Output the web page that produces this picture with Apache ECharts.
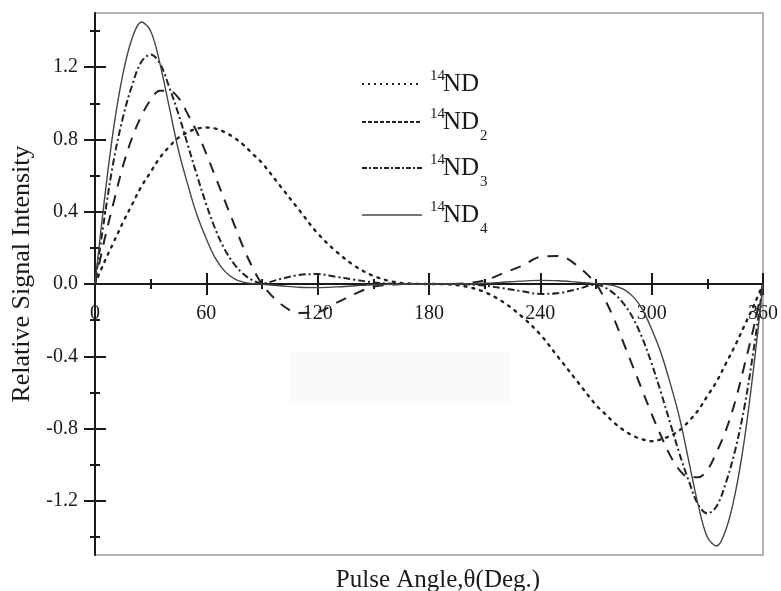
<!DOCTYPE html>
<html>
<head>
<meta charset="utf-8">
<script src="https://cdn.jsdelivr.net/npm/echarts@6/dist/echarts.min.js"></script>
<style>html,body{margin:0;padding:0;background:#fff}#c{width:781px;height:591px}</style>
</head>
<body>
<div id="c"></div>
<script>
// Pulse angle (degrees)
const angles = [0,5,10,15,20,25,30,35,40,45,50,55,60,65,70,75,80,85,90,
  100,110,120,130,140,150,160,170,180,190,200,210,220,230,240,250,260,
  270,275,280,285,290,295,300,305,310,315,320,325,330,335,340,345,350,355,360];

const nd1 = [0,0.12,0.23,0.34,0.44,0.54,0.62,0.70,0.76,0.81,0.84,0.86,0.866,0.86,0.84,0.81,0.77,0.72,0.67,
  0.54,0.41,0.28,0.18,0.10,0.045,0.014,0.002,0,-0.002,-0.014,-0.045,-0.10,-0.18,-0.28,-0.41,-0.54,
  -0.67,-0.72,-0.77,-0.81,-0.84,-0.86,-0.87,-0.86,-0.84,-0.81,-0.76,-0.70,-0.62,-0.54,-0.44,-0.34,-0.23,-0.12,0];

const nd2 = [0,0.24,0.45,0.65,0.81,0.93,1.02,1.07,1.07,1.03,0.94,0.84,0.72,0.59,0.46,0.33,0.20,0.09,0.0,
  -0.11,-0.16,-0.155,-0.105,-0.055,-0.015,-0.004,0,0,0,0.004,0.02,0.06,0.10,0.15,0.155,0.10,
  0.0,-0.09,-0.20,-0.33,-0.46,-0.59,-0.72,-0.84,-0.95,-1.03,-1.07,-1.07,-1.03,-0.93,-0.81,-0.65,-0.45,-0.24,0];

const nd3 = [0,0.36,0.68,0.92,1.10,1.23,1.27,1.22,1.09,0.94,0.77,0.60,0.44,0.30,0.19,0.11,0.055,0.02,0.003,
  0.028,0.05,0.055,0.04,0.024,0.009,0.002,0,0,0,-0.002,-0.009,-0.024,-0.04,-0.055,-0.05,-0.028,
  -0.003,-0.02,-0.055,-0.11,-0.19,-0.30,-0.44,-0.60,-0.77,-0.94,-1.09,-1.22,-1.27,-1.23,-1.10,-0.92,-0.68,-0.36,0];

const nd4 = [0,0.46,0.86,1.16,1.36,1.45,1.40,1.22,0.98,0.74,0.55,0.38,0.25,0.14,0.07,0.03,0.01,0.002,-0.002,
  -0.01,-0.018,-0.02,-0.016,-0.01,-0.004,-0.001,0,0,0,0.001,0.004,0.01,0.016,0.02,0.018,0.01,
  0.002,-0.002,-0.01,-0.03,-0.07,-0.14,-0.25,-0.38,-0.55,-0.74,-0.98,-1.22,-1.40,-1.45,-1.36,-1.16,-0.86,-0.46,0];

const yMajorTicks = [-1.2,-0.8,-0.4,0,0.4,0.8,1.2];
const yMinorTicks = [-1.4,-1.0,-0.6,-0.2,0.2,0.6,1.0,1.4];
const seriesNames = ['ND','ND2','ND3','ND4'];

const FONT = '"Liberation Serif", "Times New Roman", serif';
const INK = '#1a1a1a';

const GRID = {left:95, right:15, top:13, bottom:36};
const Y_MIN = -1.5, Y_MAX = 1.5;
// place the x axis on the y = 0 line (offset upward from the grid bottom)
const plotH = 591 - GRID.top - GRID.bottom;
const zeroOffset = -Math.round(plotH * (0 - Y_MIN) / (Y_MAX - Y_MIN));

function pairs(vals){ return angles.map((a,i)=>[a, vals[i]]); }

const xBase = {
  type:'value', min:0, max:360, interval:60, gridIndex:0, position:'bottom', offset:zeroOffset,
  axisLine:{show:true, onZero:false, lineStyle:{color:INK, width:2}},
  splitLine:{show:false}
};
const yBase = {type:'value', min:Y_MIN, max:Y_MAX, splitLine:{show:false}, position:'left', offset:0};

const option = {
  animation:false,
  backgroundColor:'#fff',
  grid:Object.assign({show:true, borderColor:'#9a9a9a', borderWidth:1.5, backgroundColor:'transparent'}, GRID),
  xAxis:[
    Object.assign({}, xBase, {
      axisTick:{show:true, inside:false, length:11, lineStyle:{color:INK, width:2}},
      minorTick:{show:true, splitNumber:2, length:5, lineStyle:{color:INK, width:2}},
      axisLabel:{show:true, margin:20, fontFamily:FONT, fontSize:20, color:INK, showMinLabel:true, showMaxLabel:true}
    }),
    Object.assign({}, xBase, {
      axisTick:{show:true, inside:true, length:11, lineStyle:{color:INK, width:2}},
      minorTick:{show:true, splitNumber:2, length:5, lineStyle:{color:INK, width:2}},
      axisLabel:{show:false}
    })
  ],
  yAxis:[
    Object.assign({}, yBase, {
      axisLine:{show:true, onZero:false, lineStyle:{color:INK, width:2}},
      axisTick:{show:true, inside:false, length:11, customValues:yMajorTicks, lineStyle:{color:INK, width:2}},
      axisLabel:{show:true, margin:17, customValues:yMajorTicks, fontFamily:FONT, fontSize:20, color:INK,
        formatter:(v)=>Number(v).toFixed(1)}
    }),
    Object.assign({}, yBase, {
      axisLine:{show:false, onZero:false},
      axisTick:{show:true, inside:true, length:11, customValues:yMajorTicks, lineStyle:{color:INK, width:2}},
      axisLabel:{show:false}
    }),
    Object.assign({}, yBase, {
      axisLine:{show:false, onZero:false},
      axisTick:{show:true, inside:false, length:5, customValues:yMinorTicks, lineStyle:{color:INK, width:2}},
      axisLabel:{show:false}
    }),
    Object.assign({}, yBase, {
      axisLine:{show:false, onZero:false},
      axisTick:{show:true, inside:true, length:5, customValues:yMinorTicks, lineStyle:{color:INK, width:2}},
      axisLabel:{show:false}
    })
  ],
  series:[
    {name:seriesNames[0], type:'line', data:pairs(nd1), smooth:0.35, showSymbol:false, z:3,
      lineStyle:{color:'#222', width:2.4, type:[2,6], cap:'round'}},
    {name:seriesNames[1], type:'line', data:pairs(nd2), smooth:0.35, showSymbol:false, z:3,
      lineStyle:{color:'#222', width:2, type:[11,9]}},
    {name:seriesNames[2], type:'line', data:pairs(nd3), smooth:0.35, showSymbol:false, z:3,
      lineStyle:{color:'#222', width:2, type:[7,3,2,3]}},
    {name:seriesNames[3], type:'line', data:pairs(nd4), smooth:0.35, showSymbol:false, z:3,
      lineStyle:{color:'#444', width:1.4, type:'solid'}}
  ],
  graphic:[
    {type:'rect', z:0, silent:true, shape:{x:290, y:352, width:220, height:51}, style:{fill:'#f9f9f9'}},
    {type:'text', x:22, y:274, rotation:Math.PI/2, style:{text:'Relative Signal Intensity', font:'26px '+FONT, fill:INK, textAlign:'center', textVerticalAlign:'middle'}},
    {type:'text', x:438, y:580, style:{text:'Pulse Angle,\u03b8(Deg.)', font:'25px '+FONT, fill:INK, textAlign:'center', textVerticalAlign:'middle'}},
    // legend
    {type:'line', shape:{x1:362, y1:84, x2:422, y2:84}, style:{stroke:'#222', lineWidth:2, lineDash:[2,4]}},
    {type:'line', shape:{x1:362, y1:122, x2:422, y2:122}, style:{stroke:'#222', lineWidth:2, lineDash:[4,2]}},
    {type:'line', shape:{x1:362, y1:168, x2:422, y2:168}, style:{stroke:'#222', lineWidth:2, lineDash:[5,2,2,2]}},
    {type:'line', shape:{x1:362, y1:215, x2:422, y2:215}, style:{stroke:'#444', lineWidth:1.4}},
    {type:'text', x:430, y:76, style:{text:'14', font:'15px '+FONT, fill:INK, textVerticalAlign:'middle'}},
    {type:'text', x:443, y:84, style:{text:'ND', font:'25px '+FONT, fill:INK, textVerticalAlign:'middle'}},
    {type:'text', x:430, y:114, style:{text:'14', font:'15px '+FONT, fill:INK, textVerticalAlign:'middle'}},
    {type:'text', x:443, y:122, style:{text:'ND', font:'25px '+FONT, fill:INK, textVerticalAlign:'middle'}},
    {type:'text', x:480, y:136, style:{text:'2', font:'15px '+FONT, fill:INK, textVerticalAlign:'middle'}},
    {type:'text', x:430, y:160, style:{text:'14', font:'15px '+FONT, fill:INK, textVerticalAlign:'middle'}},
    {type:'text', x:443, y:168, style:{text:'ND', font:'25px '+FONT, fill:INK, textVerticalAlign:'middle'}},
    {type:'text', x:480, y:182, style:{text:'3', font:'15px '+FONT, fill:INK, textVerticalAlign:'middle'}},
    {type:'text', x:430, y:207, style:{text:'14', font:'15px '+FONT, fill:INK, textVerticalAlign:'middle'}},
    {type:'text', x:443, y:215, style:{text:'ND', font:'25px '+FONT, fill:INK, textVerticalAlign:'middle'}},
    {type:'text', x:480, y:229, style:{text:'4', font:'15px '+FONT, fill:INK, textVerticalAlign:'middle'}}
  ]
};

const chart = echarts.init(document.getElementById('c'), null, {renderer:'canvas'});
chart.setOption(option);
</script>
</body>
</html>
